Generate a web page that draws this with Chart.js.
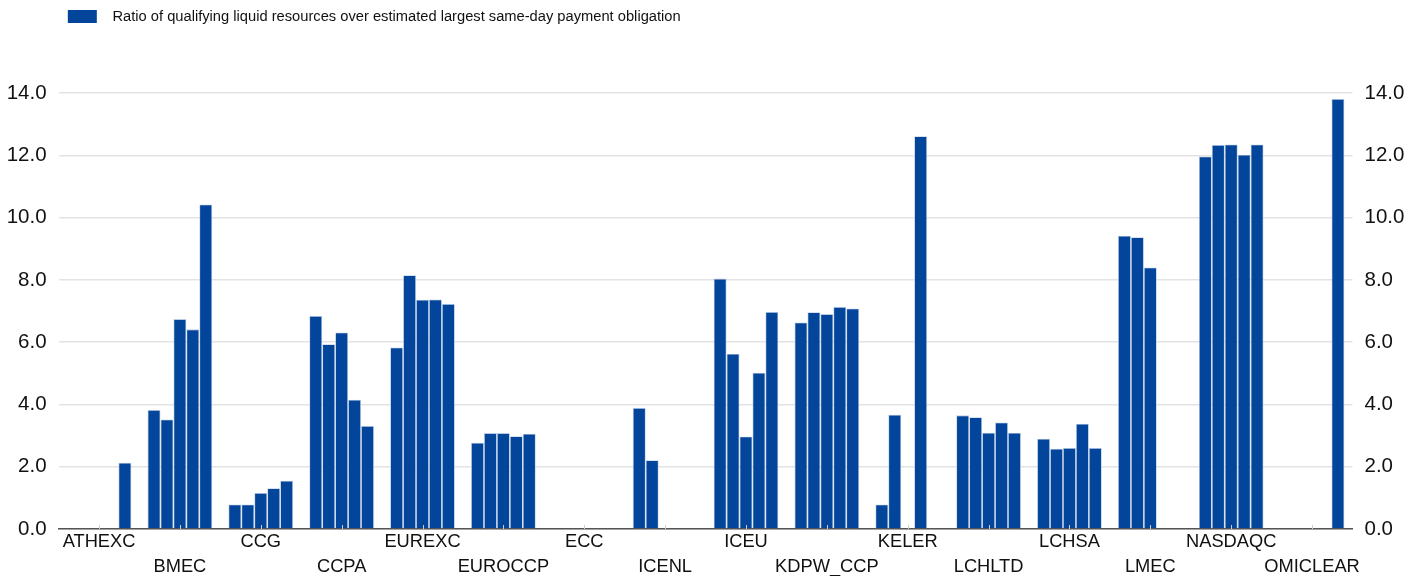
<!DOCTYPE html>
<html>
<head>
<meta charset="utf-8">
<script src="https://cdn.jsdelivr.net/npm/chart.js@4/dist/chart.umd.min.js"></script>
<style>
  html, body { margin: 0; padding: 0; background: #fff; }
  #wrap { width: 1420px; height: 576px; position: relative; }
</style>
</head>
<body>
<div id="wrap"><canvas id="c" width="1420" height="576"></canvas></div>
<script>
const categories = ['ATHEXC','BMEC','CCG','CCPA','EUREXC','EUROCCP','ECC','ICENL','ICEU','KDPW_CCP','KELER','LCHLTD','LCHSA','LMEC','NASDAQC','OMICLEAR'];
const seriesLabel = 'Ratio of qualifying liquid resources over estimated largest same-day payment obligation';
const period1 = [null, 3.82, 0.79, 6.84, 5.83, 2.77, null, 3.89, 8.04, 6.63, 0.79, 3.65, 2.90, 9.42, 11.96, null];
const period2 = [null, 3.52, 0.79, 5.93, 8.15, 3.08, null, 2.21, 5.63, 6.96, 3.67, 3.59, 2.58, 9.37, 12.33, null];
const period3 = [null, 6.74, 1.16, 6.31, 7.36, 3.08, null, null, 2.97, 6.90, null, 3.09, 2.60, 8.40, 12.35, null];
const period4 = [null, 6.41, 1.31, 4.15, 7.37, 2.98, null, null, 5.02, 7.13, 12.61, 3.42, 3.38, null, 12.02, null];
const period5 = [2.13, 10.42, 1.55, 3.31, 7.23, 3.06, null, null, 6.97, 7.08, null, 3.09, 2.60, null, 12.35, 13.81];
const yTicks = [0, 2, 4, 6, 8, 10, 12, 14];

const BLUE = '#02459a';
Chart.defaults.font.family = '"Liberation Sans", Arial, sans-serif';
Chart.defaults.color = '#111';

// legend marker: blue box with transparent margins to place text like the original
const marker = document.createElement('canvas');
marker.width = 97; marker.height = 13;
(function(){ const g = marker.getContext('2d'); g.fillStyle = BLUE; g.fillRect(59, 0, 29, 13); })();

const labels = categories.map((c, i) => i % 2 === 0 ? [c] : ['', c]);

const legendSpace = {
  id: 'legendSpace',
  beforeInit(chart) {
    const orig = chart.legend.fit;
    chart.legend.fit = function() { orig.call(this); this.height = 93; };
  }
};
const centerTicks = {
  id: 'centerTicks',
  afterDatasetsDraw(chart) {
    const xs = chart.scales.x, ctx = chart.ctx, b = chart.chartArea.bottom;
    ctx.save();
    ctx.strokeStyle = '#cfcfcf'; ctx.lineWidth = 1;
    xs.ticks.forEach((t, i) => {
      const x = Math.round(xs.getPixelForTick(i)) + 0.5;
      ctx.beginPath(); ctx.moveTo(x, b - 4); ctx.lineTo(x, b); ctx.stroke();
    });
    ctx.restore();
  }
};

const mk = (d) => ({
  label: seriesLabel, data: d, backgroundColor: BLUE,
  borderColor: '#b9cbe4', borderWidth: 0.8,
  categoryPercentage: 0.8, barPercentage: 1.0, yAxisID: 'y'
});

new Chart(document.getElementById('c'), {
  type: 'bar',
  data: { labels, datasets: [mk(period1), mk(period2), mk(period3), mk(period4), mk(period5)] },
  options: {
    responsive: false, animation: false,
    layout: { padding: 0 },
    plugins: {
      legend: {
        position: 'top', align: 'start',
        labels: {
          usePointStyle: true, pointStyle: marker, pointStyleWidth: 95.6,
          boxHeight: 13, padding: 9.5, color: '#111',
          font: { size: 14.7 },
          filter: (item) => item.datasetIndex === 0
        }
      },
      tooltip: { enabled: false }
    },
    scales: {
      x: {
        offset: true,
        grid: { display: false, drawTicks: false },
        border: { display: true, color: '#555', width: 1.5 },
        ticks: { autoSkip: false, maxRotation: 0, padding: 0, color: '#111', font: { size: 18.3, lineHeight: 1.37 } },
        afterFit(s) { s.height = 47; }
      },
      y: {
        position: 'left', min: 0, max: 14,
        afterBuildTicks(s) { s.ticks = yTicks.map(v => ({ value: v })); },
        grid: { color: '#e3e3e3', lineWidth: 1.5, drawTicks: false },
        border: { display: false },
        ticks: { padding: 12, color: '#111', font: { size: 20.5 }, callback: v => Number(v).toFixed(1) },
        afterFit(s) { s.width = 58.6; }
      },
      y2: {
        position: 'right', min: 0, max: 14,
        afterBuildTicks(s) { s.ticks = yTicks.map(v => ({ value: v })); },
        grid: { display: false, drawTicks: false },
        border: { display: false },
        ticks: { padding: 12, color: '#111', font: { size: 20.5 }, callback: v => Number(v).toFixed(1) },
        afterFit(s) { s.width = 67.5; }
      }
    }
  },
  plugins: [legendSpace, centerTicks]
});
</script>
</body>
</html>
